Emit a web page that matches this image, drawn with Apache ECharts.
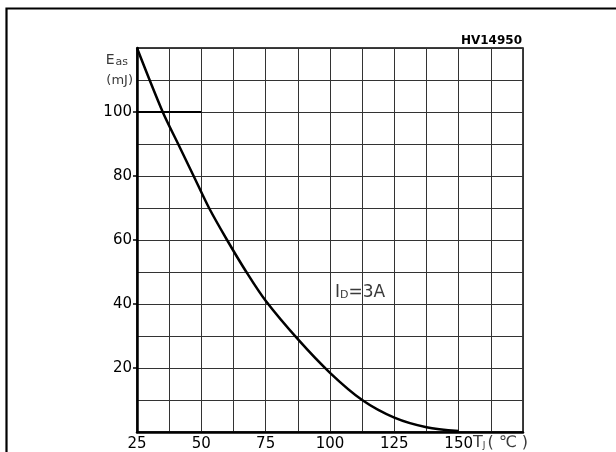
<!DOCTYPE html>
<html>
<head>
<meta charset="utf-8">
<script src="https://cdn.jsdelivr.net/npm/echarts@6/dist/echarts.min.js"></script>
<style>html,body{margin:0;padding:0;background:#fff}#c{width:616px;height:452px}</style>
</head>
<body>
<div id="c"></div>
<script>
// Junction temperature (°C) and avalanche energy (mJ)
const tempC = [25, 35, 41, 47, 53, 60, 67.5, 75, 87.5, 100, 112.5, 125, 137.5, 150];
const easMJ = [120, 100, 90, 80, 70, 60, 50, 41, 29, 18.5, 10, 4.5, 1.5, 0.3];
const xTickLabels = [25, 50, 75, 100, 125, 150];
const yTickLabels = [20, 40, 60, 80, 100];
const refSegX = [25, 50];
const refSegY = [100, 100];

const chart = echarts.init(document.getElementById('c'), null, {renderer: 'canvas'});
const font = 'DejaVu Sans';
const grey = '#3a3a3a';
chart.setOption({
  animation: false,
  backgroundColor: '#fff',
  grid: {left: 137, top: 48, right: 93, bottom: 19, show: true, borderColor: '#000', borderWidth: 1.5},
  xAxis: {
    type: 'value', min: 25, max: 175, interval: 12.5,
    axisLine: {show: true, onZero: false, lineStyle: {color: '#000', width: 2.5}},
    axisTick: {show: false},
    axisLabel: {customValues: xTickLabels, color: '#000', fontFamily: font, fontSize: 15, margin: 5},
    splitLine: {show: true, lineStyle: {color: '#333', width: 1}}
  },
  yAxis: [
    {
      type: 'value', min: 0, max: 120, interval: 10,
      axisLine: {show: true, onZero: false, lineStyle: {color: '#000', width: 2.5}},
      axisTick: {show: false},
      axisLabel: {show: false},
      splitLine: {show: true, lineStyle: {color: '#333', width: 1}}
    },
    {
      type: 'value', min: 0, max: 120, position: 'left',
      axisLine: {show: false},
      axisTick: {show: true, customValues: yTickLabels, length: 4, lineStyle: {color: '#000', width: 1.5}},
      axisLabel: {customValues: yTickLabels, color: '#000', fontFamily: font, fontSize: 15, margin: 5},
      splitLine: {show: false}
    }
  ],
  series: [
    {
      type: 'line', data: refSegX.map((x, i) => [x, refSegY[i]]),
      symbol: 'none', lineStyle: {color: '#000', width: 2}, z: 3
    },
    {
      type: 'line', data: tempC.map((t, i) => [t, easMJ[i]]),
      smooth: 0.3, symbol: 'none', lineStyle: {color: '#000', width: 2.5}, z: 4
    }
  ],
  graphic: [
    {type: 'rect', left: 4, top: 6, shape: {width: 640, height: 480},
     style: {fill: null, stroke: '#000', lineWidth: 2.2}, silent: true},
    {type: 'text', right: 94, top: 35,
     style: {text: 'HV14950', font: 'bold 12px "DejaVu Sans"', fill: '#000'}},
    {type: 'text', right: 488, top: 53,
     style: {text: '{e|E}{s|as}', rich: {
       e: {fontFamily: font, fontSize: 14, fill: grey},
       s: {fontFamily: font, fontSize: 11, fill: grey, padding: [4, 0, 0, 1]}}}},
    {type: 'text', right: 483, top: 74,
     style: {text: '(mJ)', font: '13px "DejaVu Sans"', fill: grey}},
    {type: 'text', left: 335, top: 284,
     style: {text: '{i|I}{d|D}{r|=3A}', rich: {
       i: {fontFamily: font, fontSize: 17, fill: grey},
       d: {fontFamily: font, fontSize: 11, fill: grey, padding: [6, 0, 0, 0]},
       r: {fontFamily: font, fontSize: 17, fill: grey}}}},
    {type: 'text', left: 473, top: 435,
     style: {text: '{t|T}{j|J}{u|( ℃ )}', rich: {
       t: {fontFamily: font, fontSize: 16, fill: grey},
       j: {fontFamily: font, fontSize: 9, fill: grey, padding: [6, 2, 0, 0]},
       u: {fontFamily: font, fontSize: 16, fill: grey}}}}
  ]
});
</script>
</body>
</html>
